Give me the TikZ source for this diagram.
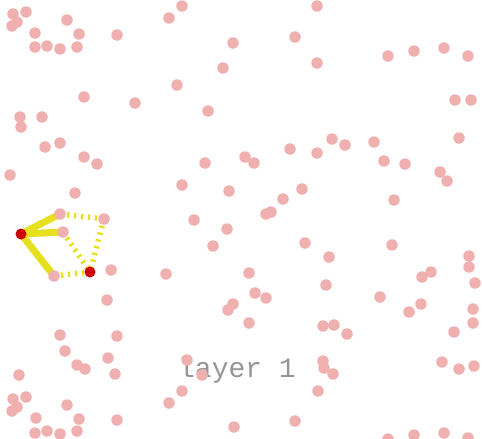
\documentclass[tikz,border=0pt]{standalone}
\usepackage{fontspec}
\setmonofont{Liberation Mono}
\usetikzlibrary{backgrounds}
\definecolor{dotpink}{HTML}{F0B0B0}
\definecolor{dotred}{HTML}{CC0000}
\definecolor{linkyellow}{HTML}{E6E01E}
\definecolor{labelgray}{HTML}{959595}
\begin{document}
\begin{tikzpicture}[x=1pt,y=-1pt,
    pinkdot/.style={circle,fill=dotpink,inner sep=0pt,minimum size=11.5pt},
    reddot/.style={circle,fill=dotred,inner sep=0pt,minimum size=11pt},
    solidlink/.style={linkyellow,line width=7pt},
    dashlink/.style={linkyellow,line width=5.5pt,dash pattern=on 2.3pt off 4.7pt}]
    \useasboundingbox (0,0) rectangle (482,439);
    % layer name, under the dots
    \node[anchor=base,text=labelgray,font=\ttfamily\fontsize{28}{30}\selectfont] (label) at (237,377) {layer 1};
    % scattered points
    \foreach \px/\py [count=\i] in {
        13/14,26/12,17/22,12/26,67/20,35/33,79/34,117/35,35/47,47/46,60/49,77/47,
        84/97,135/103,20/117,42/117,21/127,45/147,60/143,
        182/6,169/18,233/43,295/37,317/6,223/68,317/63,177/85,208/111,290/149,317/153,
        388/56,414/51,444/48,468/56,455/100,471/100,332/139,345/145,374/142,459/138,
        84/157,97/164,10/175,75/193,111/270,107/300,
        205/163,245/157,254/163,182/185,229/191,302/189,283/199,266/214,271/212,
        194/220,227/229,213/246,305/243,166/274,249/273,255/293,266/298,233/304,228/310,249/323,
        384/161,405/164,440/172,447/181,394/200,392/245,329/257,469/256,469/267,
        431/272,422/277,475/283,326/285,380/297,
        409/312,421/304,473/309,473/323,454/332,323/326,334/325,347/334,
        323/361,324/368,333/374,318/391,442/362,459/369,474/366,
        388/439,414/435,444/433,468/438,
        60/335,117/336,65/351,77/365,85/369,108/358,115/374,19/375,
        13/399,26/397,17/407,12/411,67/405,36/418,79/419,117/420,
        35/433,47/431,60/434,77/431,
        187/360,202/375,182/391,169/403,234/427,295/421}
        \node[pinkdot] (p\i) at (\px,\py) {};
    % points of the selected path
    \node[pinkdot] (n1) at (60,214) {};
    \node[pinkdot] (n2) at (104,219) {};
    \node[pinkdot] (n3) at (63,232) {};
    \node[pinkdot] (n4) at (54,276) {};
    \node[reddot] (r1) at (21,234) {};
    \node[reddot] (r2) at (90,272) {};
    % links
    \begin{pgfonlayer}{background}
        \draw[solidlink] (r1.center) -- (n1.center);
        \draw[solidlink] (r1.center) -- (n3.center);
        \draw[solidlink] (r1.center) -- (n4.center);
        \draw[dashlink] (n1.center) -- (n2.center);
        \draw[dashlink] (n2.center) -- (r2.center);
        \draw[dashlink] (n3.center) -- (r2.center);
        \draw[dashlink] (n4.center) -- (r2.center);
    \end{pgfonlayer}
\end{tikzpicture}
\end{document}
